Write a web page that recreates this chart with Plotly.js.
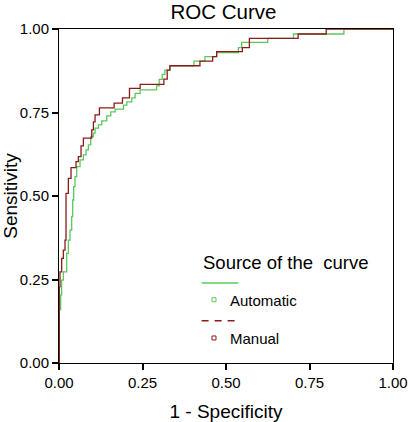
<!DOCTYPE html>
<html>
<head>
<meta charset="utf-8">
<script src="https://cdn.plot.ly/plotly-3.0.1.min.js"></script>
<style>html,body{margin:0;padding:0;background:#fff;}#chart{width:409px;height:422px;}</style>
</head>
<body>
<div id="chart"></div>
<script>
// ROC curve points (1 - specificity, sensitivity)
const autoFpr = [0, 0.001, 0.005, 0.008, 0.013, 0.023, 0.028, 0.033, 0.038, 0.041, 0.044, 0.048, 0.053, 0.063, 0.073, 0.081, 0.088, 0.095, 0.103, 0.108, 0.118, 0.128, 0.143, 0.155, 0.168, 0.193, 0.203, 0.218, 0.228, 0.243, 0.292, 0.300, 0.309, 0.317, 0.332, 0.404, 0.437, 0.472, 0.537, 0.547, 0.625, 0.702, 0.853, 1.0];
const autoTpr = [0, 0.160, 0.204, 0.248, 0.273, 0.328, 0.368, 0.398, 0.438, 0.488, 0.528, 0.558, 0.588, 0.608, 0.623, 0.638, 0.653, 0.678, 0.688, 0.703, 0.713, 0.725, 0.740, 0.752, 0.760, 0.772, 0.782, 0.794, 0.807, 0.818, 0.830, 0.849, 0.864, 0.877, 0.890, 0.904, 0.917, 0.929, 0.944, 0.960, 0.972, 0.985, 1.0, 1.0];
const manualFpr = [0, 0.001, 0.003, 0.008, 0.013, 0.018, 0.021, 0.028, 0.036, 0.051, 0.058, 0.066, 0.073, 0.098, 0.103, 0.108, 0.121, 0.165, 0.190, 0.211, 0.243, 0.314, 0.324, 0.332, 0.422, 0.460, 0.472, 0.549, 0.570, 0.716, 0.800, 1.0];
const manualTpr = [0, 0.228, 0.273, 0.313, 0.338, 0.368, 0.508, 0.553, 0.585, 0.603, 0.618, 0.650, 0.673, 0.698, 0.722, 0.743, 0.764, 0.778, 0.794, 0.822, 0.834, 0.850, 0.877, 0.890, 0.904, 0.917, 0.932, 0.944, 0.972, 0.985, 1.0, 1.0];

const seriesNames = ["Automatic", "Manual"];
const legendTitle = "Source of the\u00a0 curve";
const tickVals = [0, 0.25, 0.5, 0.75, 1.0];
const tickText = ["0.00", "0.25", "0.50", "0.75", "1.00"];

const GREEN = "#5cc85c";
const RED = "#8b1c1c";
const FONT = "Arial, 'Liberation Sans', sans-serif";

const traces = [
  {x: autoFpr, y: autoTpr, type: "scatter", mode: "lines", name: seriesNames[0],
   line: {color: GREEN, width: 1.3, shape: "hv"}, showlegend: false},
  {x: manualFpr, y: manualTpr, type: "scatter", mode: "lines", name: seriesNames[1],
   line: {color: RED, width: 1.3, shape: "hv"}, showlegend: false}
];

const axisCommon = {
  range: [0, 1], showgrid: false, zeroline: false,
  showline: true, mirror: true, linecolor: "#000", linewidth: 1,
  ticks: "outside", ticklen: 6, tickwidth: 2, tickcolor: "#000",
  tickvals: tickVals, ticktext: tickText,
  tickfont: {family: FONT, size: 15, color: "#000"}
};

const lx0 = 0.427, lx1 = 0.537, mx = 0.464, ms = 0.006;
const layout = {
  width: 409, height: 422,
  margin: {l: 59, r: 16, t: 29, b: 59},
  paper_bgcolor: "#fff", plot_bgcolor: "#fff",
  font: {family: FONT, color: "#000"},
  title: {text: "ROC Curve", font: {family: FONT, size: 20.5, color: "#000"},
          xref: "container", x: 0.5465, xanchor: "center",
          yref: "container", y: 0.973, yanchor: "middle"},
  xaxis: Object.assign({}, axisCommon, {
    title: {text: "1 - Specificity", font: {family: FONT, size: 19, color: "#000"}, standoff: 15}
  }),
  yaxis: Object.assign({}, axisCommon, {
    title: {text: "Sensitivity", font: {family: FONT, size: 19, color: "#000"}, standoff: 2}
  }),
  shapes: [
    {type: "line", xref: "paper", yref: "paper", x0: lx0, x1: lx1, y0: 0.2395, y1: 0.2395,
     line: {color: GREEN, width: 1.5}},
    {type: "rect", xref: "paper", yref: "paper", x0: mx - ms, x1: mx + ms, y0: 0.1895 - ms, y1: 0.1895 + ms,
     line: {color: GREEN, width: 1}},
    {type: "line", xref: "paper", yref: "paper", x0: lx0, x1: lx1, y0: 0.1266, y1: 0.1266,
     line: {color: RED, width: 1.5, dash: "7px,6px"}},
    {type: "rect", xref: "paper", yref: "paper", x0: mx - ms, x1: mx + ms, y0: 0.0749 - ms, y1: 0.0749 + ms,
     line: {color: RED, width: 1}}
  ],
  annotations: [
    {text: legendTitle, xref: "paper", yref: "paper", x: 0.4281, y: 0.301,
     xanchor: "left", yanchor: "middle", showarrow: false, borderpad: 0,
     font: {family: FONT, size: 18.5, color: "#000"}},
    {text: seriesNames[0], xref: "paper", yref: "paper", x: 0.5099, y: 0.187,
     xanchor: "left", yanchor: "middle", showarrow: false, borderpad: 0,
     font: {family: FONT, size: 15, color: "#000"}},
    {text: seriesNames[1], xref: "paper", yref: "paper", x: 0.5099, y: 0.0725,
     xanchor: "left", yanchor: "middle", showarrow: false, borderpad: 0,
     font: {family: FONT, size: 15, color: "#000"}}
  ]
};

Plotly.newPlot("chart", traces, layout, {displayModeBar: false, staticPlot: true});
</script>
</body>
</html>
